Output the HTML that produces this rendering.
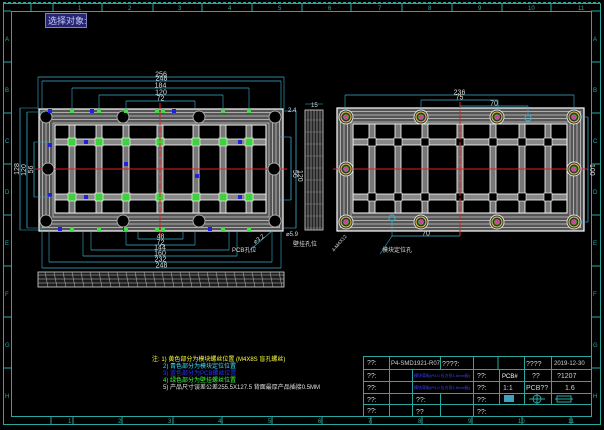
<!DOCTYPE html><html><head><meta charset="utf-8"><style>
html,body{margin:0;padding:0;background:#000;width:604px;height:430px;overflow:hidden}
svg{display:block}
text{font-family:"Liberation Sans","Noto Sans CJK SC",sans-serif}
</style></head><body>
<svg id="s" width="604" height="430" viewBox="0 0 604 430" xmlns="http://www.w3.org/2000/svg">
<rect width="604" height="430" fill="#000"/>
<g fill="none" stroke="#2aa7a0" stroke-width="1">
<line x1="3" y1="2.5" x2="600" y2="2.5" stroke-dasharray="3,2"/>
<rect x="3.5" y="3.5" width="597" height="421"/>
<rect x="11.5" y="11.5" width="580" height="405"/>
</g>
<g id="frame"></g>
<rect x="45.5" y="13.5" width="41" height="14" fill="#262670" stroke="#8080c0"/>
<text x="48" y="24" font-size="9" fill="#c8c8ff">选择对象:</text>
<g id="L"></g><g id="R"></g><g id="D"></g>
<g font-size="6" fill="#ffff40">
<text x="152" y="361">注: 1) 黄色部分为模块螺丝位置 (M4X8S 盲孔螺丝)</text>
<text x="163" y="368" fill="#40e0ff">2) 青色部分为模块定位位置</text>
<text x="163" y="375" fill="#3030ff">3) 蓝色部分为PCB螺丝位置</text>
<text x="163" y="382" fill="#40ff40">4) 绿色部分为壁挂螺丝位置</text>
<text x="163" y="389" fill="#e0e0e0">5) 产品尺寸误差公差255.5X127.5 背面最厚产品插接0.5MM</text>
</g>
<g id="T" stroke="#2aa7a0" fill="none"></g>
</svg>
<script>
const NS="http://www.w3.org/2000/svg";
function el(p,t,a,txt){const e=document.createElementNS(NS,t);for(const k in a)e.setAttribute(k,a[k]);if(txt!==undefined)e.textContent=txt;document.getElementById(p).appendChild(e);return e;}
const C="#2aa7a0";
const tx=[31,53,102,153,202,252,302,351,402,452,502,551];
for(let i=0;i<tx.length;i++){el("frame","line",{x1:tx[i],y1:3,x2:tx[i],y2:11,stroke:C});
 el("frame","line",{x1:tx[i]+20,y1:416,x2:tx[i]+20,y2:425,stroke:C});}
for(let i=1;i<=12;i++){const x=28+(i-1)*50+50;el("frame","text",{x:x,y:10,"font-size":6,fill:C},i);el("frame","text",{x:x-10,y:423,"font-size":6,fill:C},i);}
const lt="ABCDEFGH";
for(let i=0;i<8;i++){const y=11+i*51;el("frame","line",{x1:3,y1:y,x2:11,y2:y,stroke:C});el("frame","line",{x1:591,y1:y,x2:600,y2:y,stroke:C});
 el("frame","text",{x:5,y:y+30,"font-size":6,fill:C},lt[i]);el("frame","text",{x:593,y:y+30,"font-size":6,fill:C},lt[i]);}
function panel(g,x0,y0,x1,y1,vx,cx,holes,ring){
 el(g,"rect",{x:x0,y:y0,width:x1-x0,height:y1-y0,fill:"#555",stroke:"#fff","stroke-width":1.2});
 for(let k=1;k<=4;k++)el(g,"rect",{x:x0+k*3.5,y:y0+k*3.5,width:x1-x0-k*7,height:y1-y0-k*7,fill:"none",stroke:"#e8e8e8","stroke-width":0.6});
 const ix0=x0+16,iy0=y0+16,ix1=x1-17,iy1=y1-18;
 el(g,"rect",{x:ix0,y:iy0,width:ix1-ix0,height:iy1-iy0,fill:"#000",stroke:"#fff","stroke-width":1});
 [142,197].forEach(y=>{el(g,"rect",{x:ix0,y:y-3,width:ix1-ix0,height:6,fill:"#888",stroke:"#fff","stroke-width":0.8});});
 vx.forEach(x=>{el(g,"rect",{x:x-3,y:iy0,width:6,height:iy1-iy0,fill:"#777",stroke:"#fff","stroke-width":0.8});});
 vx.forEach(x=>[142,197].forEach(y=>el(g,"rect",{x:x-4,y:y-4,width:8,height:8,fill:ring?"#000":"#40d040",stroke:"#fff","stroke-width":0.6})));
 el(g,"line",{x1:x0-4,y1:169,x2:x1+4,y2:169,stroke:"#e02020","stroke-width":1});
 el(g,"line",{x1:cx,y1:y0-6,x2:cx,y2:y1+6,stroke:"#e02020","stroke-width":1,"stroke-dasharray":"6,2"});
 holes.forEach(h=>{if(ring){el(g,"circle",{cx:h[0],cy:h[1],r:7,fill:"#333",stroke:"#ddd"});el(g,"circle",{cx:h[0],cy:h[1],r:5,fill:"none",stroke:"#e0c040"});el(g,"circle",{cx:h[0],cy:h[1],r:2.5,fill:"#d040a0",stroke:"#40d040","stroke-width":0.6});}
 else{el(g,"circle",{cx:h[0],cy:h[1],r:6,fill:"#000",stroke:"#aaa"});}});
}
panel("L",39,109,283,231,[72,99,126,160,196,223,249],160,[[46,117],[123,117],[199,117],[275,117],[46,221],[123,221],[199,221],[275,221],[48,169],[274,169]],false);
panel("R",337,108,584,231,[372,398,425,460,493,522,548],460,[[346,117],[421,117],[497,117],[574,117],[346,222],[421,222],[497,222],[574,222],[346,169],[574,169]],true);
[[50,111],[92,111],[174,111],[60,229],[125,229],[210,229],[50,145],[50,195],[86,142],[240,142],[86,197],[240,197],[126,164],[197,176]].forEach(p=>el("L","rect",{x:p[0]-2,y:p[1]-2,width:4,height:4,fill:"#2020e0"}));
[72,99,126,157,163,223,249].forEach(x=>{el("L","rect",{x:x-2,y:109,width:4,height:4,fill:"#40e040"});el("L","rect",{x:x-2,y:227,width:4,height:4,fill:"#40e040"});});
const D="#3ab0d0";
function hd(x0,x1,y,t,g){g=g||"D";el(g,"line",{x1:x0,y1:y,x2:x1,y2:y,stroke:D,"stroke-width":0.8});el(g,"text",{x:(x0+x1)/2,y:y-0.5,"font-size":7,fill:"#ddd","text-anchor":"middle"},t);}
hd(38,284,77,"256");hd(42,281,81,"248");hd(72,249,88,"184");hd(99,223,95,"120");hd(126,195,101,"72");
[[38,77],[284,77],[42,81],[281,81],[72,88],[249,88],[99,95],[223,95],[126,101],[195,101]].forEach(p=>el("D","line",{x1:p[0],y1:p[1],x2:p[0],y2:109,stroke:D,"stroke-width":0.6}));
[[138,183,236,"48"],[126,195,242,"72"],[91,229,247,"144"],[83,237,253,"160"],[49,272,259,"232"],[42,281,265,"248"]].forEach(d=>{hd(d[0],d[1],d[2]+3,d[3]);el("D","line",{x1:d[0],y1:231,x2:d[0],y2:d[2]+3,stroke:D,"stroke-width":0.6});el("D","line",{x1:d[1],y1:231,x2:d[1],y2:d[2]+3,stroke:D,"stroke-width":0.6});});
function vd(x,y0,y1,t){el("D","line",{x1:x,y1:y0,x2:x,y2:y1,stroke:D,"stroke-width":0.8});el("D","line",{x1:x,y1:y0,x2:x+18,y2:y0,stroke:D,"stroke-width":0.6});el("D","line",{x1:x,y1:y1,x2:x+18,y2:y1,stroke:D,"stroke-width":0.6});
 el("D","text",{x:x-1,y:(y0+y1)/2,"font-size":7,fill:"#ddd","text-anchor":"middle",transform:`rotate(-90 ${x-1} ${(y0+y1)/2})`},t);}
vd(20,108,230,"128");vd(27,112,228,"120");vd(34,142,197,"56");
[[296,111,228,"120"],[291,137,200,"56"]].forEach(d=>{el("D","line",{x1:d[0],y1:d[1],x2:d[0],y2:d[2],stroke:D,"stroke-width":0.8});el("D","line",{x1:d[0]-12,y1:d[1],x2:d[0],y2:d[1],stroke:D,"stroke-width":0.6});el("D","line",{x1:d[0]-12,y1:d[2],x2:d[0],y2:d[2],stroke:D,"stroke-width":0.6});el("D","text",{x:d[0]+2,y:170,"font-size":7,fill:"#ddd",transform:`rotate(90 ${d[0]+2} 170)`},d[3]);});
el("D","text",{x:288,y:112,"font-size":6,fill:"#ddd"},"2.4");el("D","text",{x:311,y:107,"font-size":6,fill:"#ddd"},"15");
el("D","line",{x1:305,y1:104,x2:323,y2:104,stroke:D,"stroke-width":0.6});
el("D","text",{x:232,y:252,"font-size":6,fill:"#ddd"},"PCB孔位");el("D","text",{x:293,y:246,"font-size":6,fill:"#ddd"},"壁挂孔位");
el("D","text",{x:286,y:236,"font-size":6,fill:"#ddd"},"⌀5.9");el("D","text",{x:255,y:244,"font-size":6,fill:"#ddd",transform:"rotate(-35 255 244)"},"⌀3.2");
el("D","line",{x1:272,y1:231,x2:250,y2:250,stroke:D,"stroke-width":0.6});
el("D","rect",{x:305,y:110,width:18,height:120,fill:"#222",stroke:"#ddd","stroke-width":0.8});
[308,311,314,317,320].forEach(x=>el("D","line",{x1:x,y1:110,x2:x,y2:230,stroke:"#bbb","stroke-width":0.6}));
for(let y=120;y<230;y+=12)el("D","line",{x1:305,y1:y,x2:323,y2:y,stroke:"#888","stroke-width":0.6});
el("D","rect",{x:38,y:272,width:246,height:15,fill:"#1a1a1a",stroke:"#ddd","stroke-width":0.8});
[275,279,283].forEach(y=>el("D","line",{x1:38,y1:y,x2:284,y2:y,stroke:"#ccc","stroke-width":0.6}));
for(let x=45;x<284;x+=9)el("D","line",{x1:x,y1:272,x2:x+3,y2:287,stroke:"#aaa","stroke-width":0.6});
hd(345,574,95,"236");hd(421,498,100,"75");hd(460,528,106,"70");hd(392,460,236,"70");
[[345,95],[574,95],[421,100],[498,100]].forEach(p=>el("D","line",{x1:p[0],y1:p[1],x2:p[0],y2:112,stroke:D,"stroke-width":0.6}));
el("D","line",{x1:528,y1:106,x2:528,y2:117,stroke:D,"stroke-width":0.6});
el("D","circle",{cx:528,cy:118,r:3,fill:"none",stroke:D});el("D","circle",{cx:392,cy:218,r:3,fill:"none",stroke:D});
el("D","line",{x1:392,y1:221,x2:392,y2:236,stroke:D,"stroke-width":0.6});
el("D","line",{x1:588,y1:117,x2:588,y2:222,stroke:D,"stroke-width":0.8});el("D","line",{x1:578,y1:117,x2:588,y2:117,stroke:D,"stroke-width":0.6});el("D","line",{x1:578,y1:222,x2:588,y2:222,stroke:D,"stroke-width":0.6});
el("D","text",{x:590,y:164,"font-size":7,fill:"#ddd",transform:"rotate(90 590 164)"},"100");
el("D","text",{x:382,y:252,"font-size":6,fill:"#ddd"},"模块定位孔");el("D","line",{x1:380,y1:254,x2:392,y2:236,stroke:D,"stroke-width":0.6});
el("D","text",{x:334,y:252,"font-size":5,fill:"#ddd",transform:"rotate(-50 334 252)"},"4-M4X12");
const T="T";
const yr=[356,369,381,393,404,416];
el(T,"rect",{x:363.5,y:356.5,width:228,height:60});
yr.forEach(y=>el(T,"line",{x1:363,y1:y+.5,x2:592,y2:y+.5}));
el(T,"line",{x1:389.5,y1:356,x2:389.5,y2:416});
el(T,"line",{x1:473.5,y1:356,x2:473.5,y2:416});
el(T,"line",{x1:440.5,y1:356,x2:440.5,y2:369});el(T,"line",{x1:440.5,y1:393,x2:440.5,y2:416});
el(T,"line",{x1:412.5,y1:369,x2:412.5,y2:416});
el(T,"line",{x1:499.5,y1:369,x2:499.5,y2:404});
el(T,"line",{x1:524.5,y1:356,x2:524.5,y2:404});el(T,"line",{x1:551.5,y1:356,x2:551.5,y2:404});
el(T,"line",{x1:498,y1:356,x2:498,y2:369});
el(T,"line",{x1:363,y1:416.5,x2:592,y2:416.5});
function tt(x,y,t,s,c){el(T,"text",{x:x,y:y,"font-size":s||7,fill:c||"#d0d0d0",stroke:"none"},t);}
["??:","??:","??:","??:","??:"].forEach((t,i)=>tt(367,yr[i]+9,t));
tt(391,365,"P4-SMD1921-R07",6);tt(442,366,"????:");tt(526,366,"????",7);tt(554,365,"2019-12-30",6);
tt(414,377,"模块背板(P4.0 长方形1.6mm板)",4,"#4040ff");tt(414,389,"模块背板(P4.0 长方形1.6mm板)",4,"#4040ff");
tt(477,378,"??:");tt(502,378,"PCB#",6,"#fff");tt(532,378,"??");tt(557,378,"?1207");
tt(477,390,"??:");tt(503,390,"1:1");tt(526,390,"PCB??");tt(565,390,"1.6");
tt(416,402,"??:");tt(477,402,"??:");tt(416,414,"??");tt(477,414,"??:");
el(T,"rect",{x:504,y:395,width:10,height:7,fill:"#40a0c0",stroke:"none"});
el(T,"circle",{cx:537,cy:399,r:4});el(T,"line",{x1:529,y1:399,x2:545,y2:399});el(T,"line",{x1:537,y1:393,x2:537,y2:405});
el(T,"rect",{x:557,y:396,width:14,height:6});el(T,"line",{x1:555,y1:399,x2:573,y2:399});
</script>
</body></html>
